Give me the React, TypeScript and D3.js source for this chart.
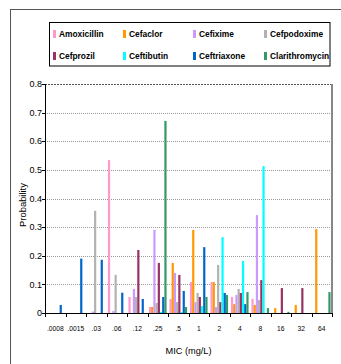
import React from 'react';
import * as d3 from 'd3';

const W = 341;
const H = 364;

const MARGIN = { top: 84, right: 9, bottom: 51, left: 45 };

const categories = ['.0008', '.0015', '.03', '.06', '.12', '.25', '.5', '1', '2', '4', '8', '16', '32', '64'];

const seriesNames = [
  'Amoxicillin',
  'Cefaclor',
  'Cefixime',
  'Cefpodoxime',
  'Cefprozil',
  'Ceftibutin',
  'Ceftriaxone',
  'Clarithromycin',
];

const seriesColors = ['#ff99cc', '#ff9900', '#cc99ff', '#b2b2b2', '#993366', '#00ffff', '#0066cc', '#339966'];

const amoxicillin = [0, 0, 0, 0.534, 0.056, 0.021, 0.049, 0.108, 0.108, 0.056, 0.049, 0, 0, 0];
const cefaclor = [0, 0, 0, 0, 0, 0.021, 0.175, 0.29, 0.108, 0.031, 0.028, 0.017, 0.028, 0.293];
const cefixime = [0, 0, 0.005, 0.007, 0.084, 0.29, 0.14, 0.038, 0.021, 0.063, 0.342, 0, 0, 0];
const cefpodoxime = [0, 0, 0.357, 0.133, 0.056, 0.035, 0.038, 0.07, 0.168, 0.084, 0.045, 0, 0, 0];
const cefprozil = [0, 0, 0, 0, 0.22, 0.175, 0.133, 0.056, 0.038, 0.07, 0.115, 0.087, 0.087, 0];
const ceftibutin = [0, 0, 0, 0, 0, 0.004, 0.004, 0.024, 0.265, 0.182, 0.513, 0, 0, 0];
const ceftriaxone = [0.028, 0.19, 0.186, 0.071, 0.049, 0.056, 0.077, 0.23, 0.07, 0.031, 0, 0, 0, 0];
const clarithromycin = [0, 0, 0, 0, 0, 0.671, 0.021, 0.056, 0.063, 0.073, 0.017, 0.004, 0, 0.073];

const seriesValues = [amoxicillin, cefaclor, cefixime, cefpodoxime, cefprozil, ceftibutin, ceftriaxone, clarithromycin];

const yTicks = [0, 0.1, 0.2, 0.3, 0.4, 0.5, 0.6, 0.7, 0.8];

const FONT = 'Arial, "Liberation Sans", sans-serif';

const App = () => {
  const x0 = d3
    .scaleBand()
    .domain(categories)
    .range([MARGIN.left, W - MARGIN.right])
    .padding(0);

  const step = x0.step();
  const x1 = d3
    .scaleBand()
    .domain(seriesNames)
    .range([step * 0.07, step * 0.93])
    .padding(0);

  const y = d3
    .scaleLinear()
    .domain([0, 0.8])
    .range([H - MARGIN.bottom, MARGIN.top]);

  const x0Left = MARGIN.left;
  const xRight = W - MARGIN.right;
  const yBottom = H - MARGIN.bottom;

  // legend layout
  const legendCols = [53, 123, 193, 264];
  const legendRows = [34, 56];

  return (
    <svg
      width={W}
      height={H}
      style={{ position: 'absolute', left: 0, top: 0, display: 'block' }}
      fontFamily={FONT}
    >
      <rect x={0} y={0} width={W} height={H} fill="#fff" />
      {/* outer chart frame */}
      <rect x={10.5} y={9.5} width={400} height={400} fill="none" stroke="#555" />

      {/* legend */}
      <rect x={49.5} y={22.5} width={280.5} height={43.5} fill="#fff" stroke="#000" />
      {seriesNames.map((name, i) => {
        const cx = legendCols[i % 4];
        const cy = legendRows[Math.floor(i / 4)];
        return (
          <g key={name}>
            <rect x={cx} y={cy - 4} width={3} height={8} fill={seriesColors[i]} />
            <text x={cx + 6} y={cy + 3} fontSize={8.4} fontWeight="bold" fill="#000">
              {name}
            </text>
          </g>
        );
      })}

      {/* gridlines */}
      {yTicks
        .filter((t) => t > 0 && t < 0.8)
        .map((t) => (
          <line
            key={t}
            x1={x0Left}
            x2={xRight}
            y1={Math.round(y(t)) + 0.5}
            y2={Math.round(y(t)) + 0.5}
            stroke="#999"
            strokeDasharray="1,1"
          />
        ))}
      <line
        x1={x0Left}
        x2={xRight}
        y1={MARGIN.top + 0.5}
        y2={MARGIN.top + 0.5}
        stroke="#555"
        strokeDasharray="2,1"
      />
      <line x1={xRight} x2={xRight} y1={MARGIN.top} y2={yBottom} stroke="#888" strokeWidth={2} />

      {/* bars */}
      {categories.map((c, ci) => (
        <g key={c} transform={`translate(${x0(c)},0)`}>
          {seriesNames.map((s, si) => {
            const v = seriesValues[si][ci];
            if (!v) return null;
            return (
              <rect
                key={s}
                x={x1(s)}
                y={y(v)}
                width={x1.bandwidth()}
                height={yBottom - y(v)}
                fill={seriesColors[si]}
              />
            );
          })}
        </g>
      ))}

      {/* y axis */}
      <line x1={x0Left + 0.5} x2={x0Left + 0.5} y1={MARGIN.top} y2={yBottom} stroke="#000" />
      {yTicks.map((t) => (
        <g key={t}>
          <line
            x1={x0Left - 3}
            x2={x0Left}
            y1={Math.round(y(t)) + 0.5}
            y2={Math.round(y(t)) + 0.5}
            stroke="#000"
          />
          <text x={x0Left - 3} y={y(t) + 3.2} fontSize={9} textAnchor="end" fill="#000">
            {t === 0 ? '0' : d3.format('.1f')(t)}
          </text>
        </g>
      ))}

      {/* x axis */}
      <line x1={x0Left} x2={xRight} y1={yBottom + 0.5} y2={yBottom + 0.5} stroke="#000" />
      {categories.concat(['end']).map((c, i) => {
        const xx = Math.round(x0Left + i * step) + 0.5;
        return <line key={`t${i}`} x1={xx} x2={xx} y1={yBottom} y2={yBottom + 4} stroke="#000" />;
      })}
      {categories.map((c) => (
        <text
          key={c}
          x={(x0(c) as number) + step / 2}
          y={yBottom + 18}
          fontSize={6.7}
          textAnchor="middle"
          fill="#000"
        >
          {c}
        </text>
      ))}

      {/* axis titles */}
      <text x={(x0Left + xRight) / 2} y={354} fontSize={9.2} textAnchor="middle" fill="#000">
        MIC (mg/L)
      </text>
      <text
        transform={`translate(26, 205) rotate(-90)`}
        fontSize={9.4}
        textAnchor="middle"
        fill="#000"
      >
        Probability
      </text>
    </svg>
  );
};

export default App;
